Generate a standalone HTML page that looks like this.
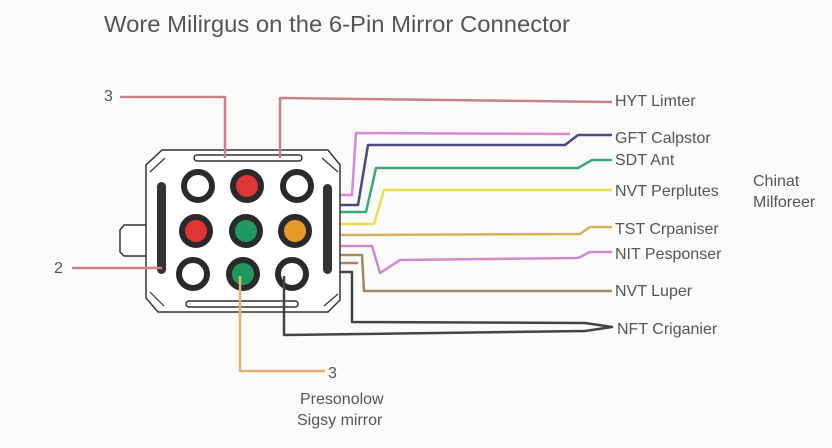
<!DOCTYPE html>
<html><head><meta charset="utf-8"><style>
html,body{margin:0;padding:0;background:#fbfbfa;}
svg{display:block}
text{font-family:"Liberation Sans",sans-serif;fill:#555;}
</style></head><body>
<svg width="832" height="448" viewBox="0 0 832 448" xmlns="http://www.w3.org/2000/svg">
<rect width="832" height="448" fill="#fbfbfa"/>
<text x="104" y="32" font-size="23" textLength="466" lengthAdjust="spacingAndGlyphs" fill="#505050">Wore Milirgus on the 6-Pin Mirror Connector</text>

<g fill="none" stroke-linejoin="round" stroke-width="2.5">
<!-- pink GFT -->
<polyline points="340,195 352,195 356,133 570,134" stroke="#d98ad0"/>
<!-- navy -->
<polyline points="340,205 358,205 368,145 565,145 578,135 612,135" stroke="#4a4a80"/>
<!-- green -->
<polyline points="340,212 366,212 376,168 578,168 592,160 612,160" stroke="#3aa878"/>
<!-- yellow -->
<polyline points="340,224 374,224 384,190 612,190" stroke="#e8e050"/>
<!-- tan -->
<polyline points="340,235 580,234 590,227 612,227" stroke="#d8b060"/>
<!-- pink NIT -->
<polyline points="340,246 372,246 380,273 400,260 578,258 590,252 612,252" stroke="#d08ac8"/>
<!-- brown -->
<polyline points="340,255 362,255 364,291 612,291" stroke="#a08868"/>
<polyline points="340,263 358,263" stroke="#a08868"/>
<!-- black -->
<polyline points="340,272 352,272 352,322 585,323 612,327 585,331 284,335 284,312" stroke="#444"/>
</g>

<!-- connector -->
<g stroke="#333" stroke-width="1.5" fill="#fff">
<path d="M150,225 L124,225 L120,230 L120,252 L124,256 L150,256 Z"/>
<path d="M162,150 L328,150 L340,165 L340,300 L328,312 L158,312 L146,298 L146,165 Z"/>
<rect x="194" y="155" width="108" height="6" rx="3"/>
<rect x="186" y="301" width="112" height="6" rx="3"/>
</g>
<g fill="none" stroke="#333" stroke-width="1.2">
<path d="M150,172 L165,158"/><path d="M338,172 L322,158"/>
<path d="M150,292 L164,306"/><path d="M338,294 L324,306"/>
</g>
<rect x="157" y="182" width="9" height="92" rx="4.5" fill="#333"/>
<rect x="323" y="184" width="9" height="90" rx="4.5" fill="#333"/>
<g stroke="#2a2a2a" stroke-width="6">
<circle cx="198" cy="186" r="14" fill="#fff"/>
<circle cx="247" cy="186" r="14" fill="#e03535"/>
<circle cx="297" cy="186" r="14" fill="#fff"/>
<circle cx="196" cy="231" r="14" fill="#e03535"/>
<circle cx="246" cy="231" r="14" fill="#1e9a60"/>
<circle cx="295" cy="231" r="14" fill="#e89a28"/>
<circle cx="193" cy="274" r="14" fill="#fff"/>
<circle cx="243" cy="274" r="14" fill="#1e9a60"/>
<circle cx="292" cy="274" r="14" fill="#fff"/>
</g>

<g fill="none" stroke-linejoin="round" stroke-width="2.5">
<polyline points="120,97 225,97 225,158" stroke="#c98088"/>
<polyline points="280,158 280,98 612,102" stroke="#c98088"/>
<polyline points="72,268 162,268" stroke="#c98088"/>
<polyline points="240,276 240,371 325,371" stroke="#e8b070"/>
<polyline points="284,276 284,312" stroke="#444"/>
</g>

<g font-size="16">
<text x="104" y="101">3</text>
<text x="54" y="273">2</text>
<text x="328" y="378">3</text>
<text x="300" y="404">Presonolow</text>
<text x="297" y="425">Sigsy mirror</text>
<text x="615" y="106">HYT Limter</text>
<text x="615" y="143">GFT Calpstor</text>
<text x="615" y="165">SDT Ant</text>
<text x="615" y="196">NVT Perplutes</text>
<text x="615" y="234">TST Crpaniser</text>
<text x="615" y="259">NIT Pesponser</text>
<text x="615" y="296">NVT Luper</text>
<text x="617" y="334">NFT Criganier</text>
<text x="753" y="186">Chinat</text>
<text x="753" y="207">Milforeer</text>
</g>
</svg>
</body></html>
